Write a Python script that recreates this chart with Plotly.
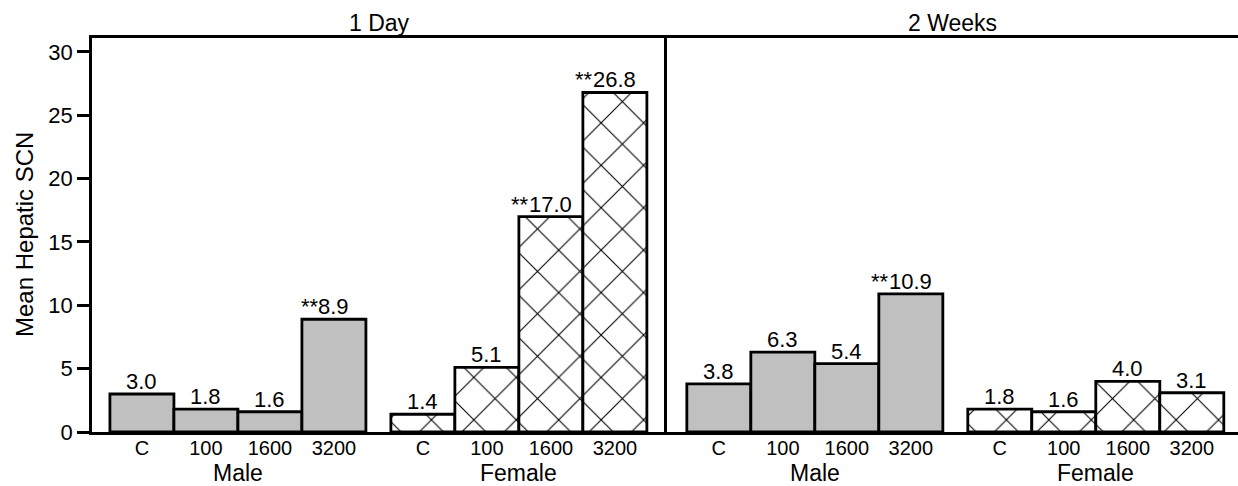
import numpy as np
import plotly.graph_objects as go

# ---------------- data ----------------
panels = ["1 Day", "2 Weeks"]
groups = ["Male", "Female"]
doses = ["C", "100", "1600", "3200"]

day1_male = [3.0, 1.8, 1.6, 8.9]
day1_female = [1.4, 5.1, 17.0, 26.8]
wk2_male = [3.8, 6.3, 5.4, 10.9]
wk2_female = [1.8, 1.6, 4.0, 3.1]

day1_male_sig = ["", "", "", "**"]
day1_female_sig = ["", "", "**", "**"]
wk2_male_sig = ["", "", "", "**"]
wk2_female_sig = ["", "", "", ""]

y_ticks = [0, 5, 10, 15, 20, 25, 30]
y_title = "Mean Hepatic SCN"

values = [[day1_male, day1_female], [wk2_male, wk2_female]]
sigs = [[day1_male_sig, day1_female_sig], [wk2_male_sig, wk2_female_sig]]

# ---------------- style ----------------
FONT = "Liberation Sans, Arial, sans-serif"
GRAY = "#c0c0c0"
W, H = 1238, 486
ML, MR, MT, MB = 92, 0, 38, 54
plot_w = W - ML - MR
split = 575 / plot_w
group_gap = 0.39
unit_px = 64.0
x_ranges = [(-0.78, -0.78 + 575 / unit_px), (-0.81, -0.81 + (plot_w - 575) / unit_px)]
lbl_size = 22

fig = go.Figure()
annotations = []

for p, panel in enumerate(panels):
    xa = "x" if p == 0 else "x2"
    ya = "y" if p == 0 else "y2"
    tickvals, ticktext = [], []
    for g, grp in enumerate(groups):
        pos = np.arange(len(doses)) + g * (len(doses) + group_gap)
        vals = values[p][g]
        female = grp == "Female"
        marker = dict(
            color="white" if female else GRAY,
            line=dict(color="black", width=2.8),
        )
        if female:
            marker["pattern"] = dict(shape="x", size=30, solidity=0.07,
                                     fgcolor="black", bgcolor="white",
                                     fillmode="replace")
        fig.add_trace(go.Bar(
            x=pos, y=vals, width=1.0, marker=marker,
            xaxis=xa, yaxis=ya, showlegend=False, hoverinfo="skip",
        ))
        tickvals += list(pos)
        ticktext += doses
        # value labels
        for xi, v, s in zip(pos, vals, sigs[p][g]):
            num = f"{v:.1f}"
            annotations.append(dict(
                x=xi, y=v, xref=xa, yref=ya, text=num, showarrow=False,
                xanchor="center", yanchor="bottom", yshift=-2,
                font=dict(family=FONT, size=lbl_size, color="black")))
            if s:
                half = (sum(0.278 if c == "." else 0.556 for c in num) * lbl_size) / 2
                annotations.append(dict(
                    x=xi, y=v, xref=xa, yref=ya, text=s, showarrow=False,
                    xanchor="right", yanchor="bottom", yshift=-2, xshift=-half + 2,
                    font=dict(family=FONT, size=lbl_size, color="black")))
        # group label
        annotations.append(dict(
            x=float(np.mean(pos)), y=0, xref=xa, yref="paper", text=grp,
            showarrow=False, xanchor="center", yanchor="top", yshift=-26,
            font=dict(family=FONT, size=23, color="black")))
    # panel title
    annotations.append(dict(
        x=0.5, y=1, xref=f"{xa} domain", yref="paper", text=panel,
        showarrow=False, xanchor="center", yanchor="bottom", yshift=0,
        font=dict(family=FONT, size=23, color="black")))
    axis_key = "xaxis" if p == 0 else "xaxis2"
    fig.layout[axis_key] = dict(
        domain=[0, split] if p == 0 else [split, 1],
        range=list(x_ranges[p]), tickmode="array",
        tickvals=tickvals, ticktext=ticktext, ticks="",
        ticklabelstandoff=-4,
        showline=True, linecolor="black", linewidth=2.5, mirror=True,
        showgrid=False, zeroline=False, anchor=ya,
        tickfont=dict(family=FONT, size=20, color="black"),
    )

annotations.append(dict(
    x=-(ML - 24) / plot_w, y=0.5, xref="paper", yref="paper", text=y_title,
    showarrow=False, textangle=-90, xanchor="center", yanchor="middle",
    font=dict(family=FONT, size=24, color="black")))

y_range = [0, 31.1]
fig.update_layout(
    width=W, height=H,
    margin=dict(l=ML, r=MR, t=MT, b=MB),
    paper_bgcolor="white", plot_bgcolor="white",
    barmode="overlay",
    annotations=annotations,
    yaxis=dict(range=y_range, tickmode="array", tickvals=y_ticks,
               ticks="outside", ticklen=12, tickwidth=2.5, tickcolor="black",
               showline=True, linecolor="black", linewidth=2.5,
               showgrid=False, zeroline=False, anchor="x",
               tickfont=dict(family=FONT, size=22, color="black")),
    yaxis2=dict(range=y_range, showticklabels=False, ticks="",
                showline=True, linecolor="black", linewidth=2.5,
                showgrid=False, zeroline=False, anchor="x2"),
)

fig.write_html("out.html", config={"displayModeBar": False},
               post_script="document.body.style.margin='0px';document.body.style.padding='0px';")
